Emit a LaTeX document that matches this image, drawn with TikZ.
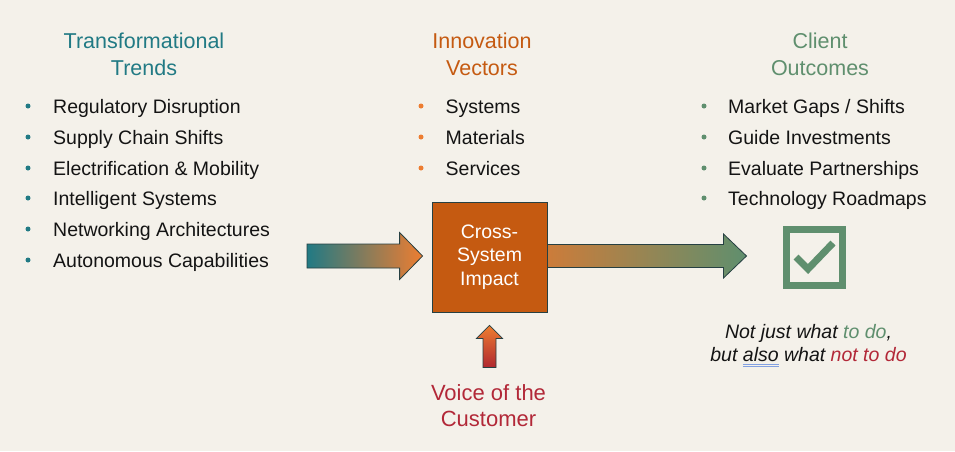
\documentclass[tikz,border=0pt]{standalone}
\usepackage{fontspec}
\setmainfont{Liberation Sans}
\usetikzlibrary{calc}

\definecolor{paper}{RGB}{244,241,234}
\definecolor{ink}{RGB}{20,20,20}
\definecolor{trendteal}{RGB}{33,122,132}
\definecolor{vectororange}{RGB}{197,90,17}
\definecolor{dotorange}{RGB}{237,125,49}
\definecolor{outcomegreen}{RGB}{95,143,110}
\definecolor{voicered}{RGB}{178,40,56}
\definecolor{edgeslate}{RGB}{38,64,66}
\definecolor{proofblue}{RGB}{130,160,225}

\newcommand\proofmark[1]{\leavevmode\setbox0\hbox{#1}%
  \rlap{\color{proofblue}\rule[-2.6pt]{\wd0}{0.7pt}}%
  \rlap{\color{proofblue}\rule[-5.4pt]{\wd0}{0.7pt}}\box0\relax}

\begin{document}
\begin{tikzpicture}[x=1pt,y=-1pt,
  heading/.style={font=\fontsize{21.5}{27}\selectfont, align=center, anchor=north, inner sep=0pt},
  entry/.style={font=\fontsize{19.5}{23}\selectfont, anchor=base west, inner sep=0pt, text=ink},
  dot/.style={circle, inner sep=0pt, minimum size=5pt},
  blockedge/.style={draw=edgeslate, line width=0.8pt}]

% PAPER %%%%%%%%%%%%%%%%%%%%%%%%%%%%%%%%%%%%%%%%%%%%%%%%%%%%%%%%%%%%%%%%%%

\fill[paper] (0,0) rectangle (955,451);
\useasboundingbox (0,0) rectangle (955,451);

% COLUMN HEADINGS %%%%%%%%%%%%%%%%%%%%%%%%%%%%%%%%%%%%%%%%%%%%%%%%%%%%%%%%

\node[heading, text=trendteal] (trends) at (144,32.3) {Transformational\\Trends};
\node[heading, text=vectororange] (vectors) at (482,32.6) {Innovation\\Vectors};
\node[heading, text=outcomegreen] (outcomes) at (820,32.3) {Client\\Outcomes};

% TRENDS LIST %%%%%%%%%%%%%%%%%%%%%%%%%%%%%%%%%%%%%%%%%%%%%%%%%%%%%%%%%%%%

\node[dot, fill=trendteal] (T1d) at (28,106) {};
\node[entry] (T1) at (53,113) {Regulatory Disruption};
\node[dot, fill=trendteal] (T2d) at (28,137) {};
\node[entry] (T2) at (53,144) {Supply Chain Shifts};
\node[dot, fill=trendteal] (T3d) at (28,168) {};
\node[entry] (T3) at (53,175) {Electrification \& Mobility};
\node[dot, fill=trendteal] (T4d) at (28,198) {};
\node[entry] (T4) at (53,205) {Intelligent Systems};
\node[dot, fill=trendteal] (T5d) at (28,229) {};
\node[entry] (T5) at (53,236) {Networking Architectures};
\node[dot, fill=trendteal] (T6d) at (28,260) {};
\node[entry] (T6) at (53,267) {Autonomous Capabilities};

% VECTORS LIST %%%%%%%%%%%%%%%%%%%%%%%%%%%%%%%%%%%%%%%%%%%%%%%%%%%%%%%%%%%

\node[dot, fill=dotorange] (V1d) at (421,106) {};
\node[entry] (V1) at (445.5,113) {Systems};
\node[dot, fill=dotorange] (V2d) at (421,137) {};
\node[entry] (V2) at (445.5,144) {Materials};
\node[dot, fill=dotorange] (V3d) at (421,168) {};
\node[entry] (V3) at (445.5,175) {Services};

% OUTCOMES LIST %%%%%%%%%%%%%%%%%%%%%%%%%%%%%%%%%%%%%%%%%%%%%%%%%%%%%%%%%%

\node[dot, fill=outcomegreen] (O1d) at (704,106) {};
\node[entry] (O1) at (728,113) {Market Gaps / Shifts};
\node[dot, fill=outcomegreen] (O2d) at (704,137) {};
\node[entry] (O2) at (728,144) {Guide Investments};
\node[dot, fill=outcomegreen] (O3d) at (704,168) {};
\node[entry] (O3) at (728,175) {Evaluate Partnerships};
\node[dot, fill=outcomegreen] (O4d) at (704,198) {};
\node[entry] (O4) at (728,205) {Technology Roadmaps};

% CENTRE BOX AND CHECK %%%%%%%%%%%%%%%%%%%%%%%%%%%%%%%%%%%%%%%%%%%%%%%%%%%

\node[draw=edgeslate, line width=0.8pt, fill=vectororange, minimum width=115, minimum height=110, inner sep=0pt,
      text=white, align=center, font=\fontsize{19.5}{23.5}\selectfont] (impact) at (489.5,257) {Cross-\\System\\Impact};

\node[draw=outcomegreen, line width=7pt, minimum size=56, inner sep=0pt] (check) at (814.5,257) {};
\draw[outcomegreen, line width=7pt] ($(check)+(-18.5,0)$) -- ($(check)+(-6.5,12)$) -- ($(check)+(18.5,-14)$);

% BLOCK ARROWS %%%%%%%%%%%%%%%%%%%%%%%%%%%%%%%%%%%%%%%%%%%%%%%%%%%%%%%%%%%

\coordinate (inTail) at (307,256);
\coordinate (inTip) at ($(impact.west)+(-9,-1)$);
\shadedraw[blockedge, left color=trendteal, middle color={rgb,255:red,190;green,126;blue,112}, right color=dotorange]
  ($(inTail)+(0,-12)$) -- ($(inTip)+(-23,-12)$) -- ($(inTip)+(-23,-23.5)$) -- (inTip)
  -- ($(inTip)+(-23,23.5)$) -- ($(inTip)+(-23,12)$) -- ($(inTail)+(0,12)$) -- cycle;

\coordinate (outTail) at ($(impact.east)+(0,-1)$);
\coordinate (outTip) at ($(check.west)+(-36.5,-1)$);
\shadedraw[blockedge, left color={rgb,255:red,204;green,124;blue,58}, right color=outcomegreen]
  ($(outTail)+(0,-11.5)$) -- ($(outTip)+(-23,-11.5)$) -- ($(outTip)+(-23,-22)$) -- (outTip)
  -- ($(outTip)+(-23,22)$) -- ($(outTip)+(-23,11.5)$) -- ($(outTail)+(0,11.5)$) -- cycle;

\coordinate (upTip) at ($(impact.south)+(0,13)$);
\coordinate (upTail) at ($(upTip)+(0,42)$);
\shadedraw[blockedge, top color=dotorange, bottom color={rgb,255:red,176;green,40;blue,48}]
  ($(upTail)+(-6.5,0)$) -- ($(upTip)+(-6.5,13)$) -- ($(upTip)+(-13,13)$) -- (upTip)
  -- ($(upTip)+(13,13)$) -- ($(upTip)+(6.5,13)$) -- ($(upTail)+(6.5,0)$) -- cycle;

% CAPTIONS %%%%%%%%%%%%%%%%%%%%%%%%%%%%%%%%%%%%%%%%%%%%%%%%%%%%%%%%%%%%%%%

\node[heading, text=voicered, font=\fontsize{22}{26}\selectfont] (voice) at (488.5,384.8) {Voice of the\\Customer};

\node[heading, text=ink, font=\fontsize{19.5}{23.6}\itshape\selectfont] (notjust) at (808.5,323.8)
  {Not just what \textcolor{outcomegreen}{to do},\\but \proofmark{also} what \textcolor{voicered}{not to do}};

\end{tikzpicture}
\end{document}
